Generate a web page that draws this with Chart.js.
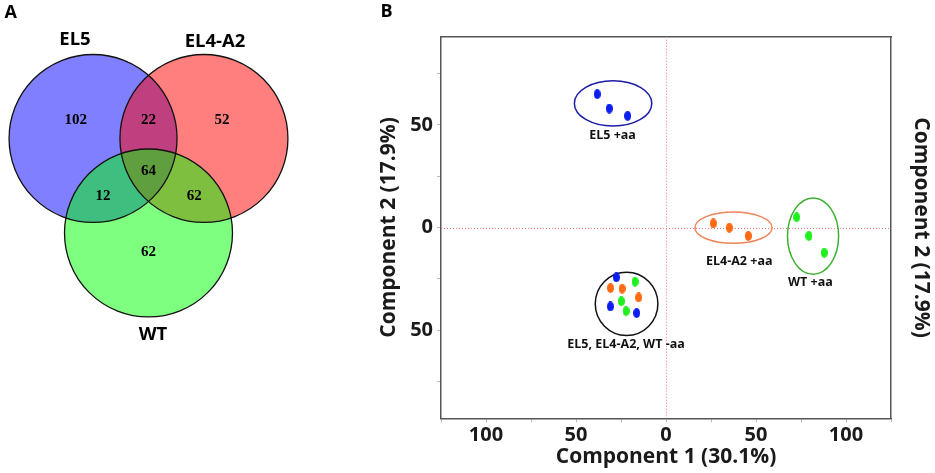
<!DOCTYPE html>
<html>
<head>
<meta charset="utf-8">
<script src="https://cdn.jsdelivr.net/npm/chart.js@4.4.0/dist/chart.umd.min.js"></script>
<style>
html, body { margin: 0; padding: 0; background: #fff; }
#wrap { position: relative; width: 935px; height: 473px; overflow: hidden; }
#vennBox { position: absolute; left: 0; top: 0; width: 297px; height: 473px; }
#pcaBox { position: absolute; left: 370px; top: 0; width: 565px; height: 473px; }
</style>
</head>
<body>
<div id="wrap">
  <div id="vennBox"><canvas id="venn"></canvas></div>
  <div id="pcaBox"><canvas id="pca"></canvas></div>
</div>
<script>
// ---- Panel A : Venn (counts) ----
const vennSets = ['EL5', 'EL4-A2', 'WT'];
const vennCenterX = [-0.66, 0.66, 0];
const vennCenterY = [0.5625, 0.5625, -0.5625];
// regions: EL5 only, EL5∩EL4-A2, EL4-A2 only, all three, EL5∩WT, EL4-A2∩WT, WT only
const vennCounts = [102, 22, 52, 64, 12, 62, 62];

// ---- Panel B : PCA scores ----
const pcaGroups = ['EL5 +aa', 'EL4-A2 +aa', 'WT +aa', 'EL5, EL4-A2, WT -aa'];
const el5PC1 = [-38.2, -31.5, -21.3, -27.6, -30.9, -16.3];
const el5PC2 = [65.0, 58.0, 54.4, -24.3, -38.5, -41.7];
const el4PC1 = [26.3, 35.2, 45.7, -30.8, -24.4, -15.2];
const el4PC2 = [2.0, -0.1, -4.1, -29.5, -29.8, -34.1];
const wtPC1 = [72.6, 79.4, 87.9, -17.2, -24.8, -22.2];
const wtPC2 = [5.0, -4.1, -12.3, -26.4, -35.9, -40.7];
// group ellipses (centre and half axes, in PC units)
const ellCx = [-29.4, 37.5, 81.7, -21.9];
const ellCy = [60.5, -0.1, -4.2, -37.2];
const ellRx = [21.5, 21.4, 14.2, 17.4];
const ellRy = [11.0, 7.6, 18.6, 15.4];
const pc1Ticks = [-125, -100, -75, -50, -25, 0, 25, 50, 75, 100, 125];
const pc2Ticks = [-75, -50, -25, 0, 25, 50, 75];

// layout of text in panel A (venn units, radius = 1)
const vennTextPos = {
  sets: [[-0.875, 1.735], [0.792, 1.715], [0.054, -1.777]],
  counts: [[-0.867, 0.783], [0, 0.783], [0.875, 0.783], [0, 0.179], [-0.542, -0.122], [0.545, -0.122], [0, -0.792]]
};
// where the group names sit in panel B (PC units)
const groupLabelPos = [[-29.7, 45.1], [40.7, -16.3], [80.2, -26.9], [-22.2, -56.8]];

const vennColors = ['rgba(0,0,255,0.5)', 'rgba(255,0,0,0.5)', 'rgba(0,255,0,0.5)'];
const strainColors = ['#0a1ef0', '#ff6a10', '#1ef01e'];
const ellColors = ['#1c1ca8', '#f0845a', '#3cb030', '#111111'];

function unitPx(chart) {
  const x = chart.scales.x;
  return x.getPixelForValue(1) - x.getPixelForValue(0);
}

const vennText = {
  id: 'vennText',
  afterDatasetsDraw(chart) {
    const { ctx, scales: { x, y } } = chart;
    ctx.save();
    ctx.fillStyle = '#000';
    ctx.textAlign = 'center';
    ctx.textBaseline = 'middle';
    ctx.font = 'bold 18px "Open Sans"';
    ctx.fillText('A', 10.7, 13.3);
    ctx.font = 'bold 18.5px "Open Sans"';
    vennSets.forEach((s, i) => {
      const p = vennTextPos.sets[i];
      ctx.fillText(s, x.getPixelForValue(p[0]), y.getPixelForValue(p[1]));
    });
    ctx.font = 'bold 15px "Liberation Serif"';
    vennCounts.forEach((c, i) => {
      const p = vennTextPos.counts[i];
      ctx.fillText(String(c), x.getPixelForValue(p[0]), y.getPixelForValue(p[1]));
    });
    ctx.restore();
  }
};

// filled circles (blue first, green on top) and then the outlines above all fills
const vennFills = vennSets.map((name, i) => ({
  label: name,
  data: [{ x: vennCenterX[i], y: vennCenterY[i] }],
  backgroundColor: vennColors[i],
  borderWidth: 0,
  pointRadius: ctx => unitPx(ctx.chart),
  order: 4 - i
}));
const vennLines = vennSets.map((name, i) => ({
  label: name + ' outline',
  data: [{ x: vennCenterX[i], y: vennCenterY[i] }],
  backgroundColor: 'rgba(0,0,0,0)',
  borderColor: '#111',
  borderWidth: 1.3,
  pointRadius: ctx => unitPx(ctx.chart),
  order: 0
}));

new Chart(document.getElementById('venn'), {
  type: 'scatter',
  data: { datasets: vennFills.concat(vennLines) },
  options: {
    responsive: true,
    maintainAspectRatio: false,
    animation: false,
    events: [],
    layout: { padding: 0 },
    plugins: { legend: { display: false }, tooltip: { enabled: false } },
    scales: {
      x: { type: 'linear', display: false, min: -1.768, max: 1.768 },
      y: { type: 'linear', display: false, min: -3.42, max: 2.211 }
    }
  },
  plugins: [vennText]
});

// elliptic dots like the original markers
function dot(color) {
  const c = document.createElement('canvas');
  c.width = 7; c.height = 10;
  const g = c.getContext('2d');
  g.fillStyle = color;
  g.beginPath();
  g.ellipse(3.5, 5, 3.5, 5, 0, 0, Math.PI * 2);
  g.fill();
  return c;
}

const zip = (xs, ys) => xs.map((v, i) => ({ x: v, y: ys[i] }));

const pcaDecor = {
  id: 'pcaDecor',
  beforeDatasetsDraw(chart) {
    const { ctx, chartArea: a, scales: { x, y } } = chart;
    ctx.save();
    ctx.strokeStyle = '#f07878';
    ctx.lineWidth = 1;
    ctx.setLineDash([1, 2]);
    const x0 = Math.round(x.getPixelForValue(0)) + 0.5;
    const y0 = Math.round(y.getPixelForValue(0)) + 0.5;
    ctx.beginPath();
    ctx.moveTo(x0, a.top); ctx.lineTo(x0, a.bottom);
    ctx.moveTo(a.left, y0); ctx.lineTo(a.right, y0);
    ctx.stroke();
    ctx.setLineDash([]);
    ctx.lineWidth = 1.5;
    ellCx.forEach((cx, i) => {
      const px = x.getPixelForValue(cx), py = y.getPixelForValue(ellCy[i]);
      const rx = Math.abs(x.getPixelForValue(cx + ellRx[i]) - px);
      const ry = Math.abs(y.getPixelForValue(ellCy[i] + ellRy[i]) - py);
      ctx.strokeStyle = ellColors[i];
      ctx.beginPath();
      ctx.ellipse(px, py, rx, ry, 0, 0, Math.PI * 2);
      ctx.stroke();
    });
    ctx.restore();
  },
  afterDatasetsDraw(chart) {
    const { ctx, scales: { x, y } } = chart;
    ctx.save();
    ctx.fillStyle = '#111';
    ctx.textAlign = 'center';
    ctx.textBaseline = 'middle';
    ctx.font = 'bold 12.5px "Open Sans"';
    pcaGroups.forEach((g, i) => {
      const p = groupLabelPos[i];
      ctx.fillText(g, x.getPixelForValue(p[0]), y.getPixelForValue(p[1]));
    });
    ctx.font = 'bold 18px "Open Sans"';
    ctx.fillStyle = '#000';
    ctx.fillText('B', 16.5, 11.7);
    ctx.restore();
  }
};

const axisFont = { family: 'Open Sans', weight: 'bold', size: 20 };
const titleFont = { family: 'Open Sans', weight: 'bold', size: 21 };
const frame = { display: true, color: '#555', width: 1.5 };

new Chart(document.getElementById('pca'), {
  type: 'scatter',
  data: {
    datasets: [
      { label: 'EL5', data: zip(el5PC1, el5PC2), pointStyle: dot(strainColors[0]) },
      { label: 'EL4-A2', data: zip(el4PC1, el4PC2), pointStyle: dot(strainColors[1]) },
      { label: 'WT', data: zip(wtPC1, wtPC2), pointStyle: dot(strainColors[2]) }
    ]
  },
  options: {
    responsive: true,
    maintainAspectRatio: false,
    animation: false,
    events: [],
    layout: { padding: 0 },
    plugins: { legend: { display: false }, tooltip: { enabled: false } },
    scales: {
      x: {
        type: 'linear', position: 'bottom', min: -125, max: 125,
        afterBuildTicks: s => { s.ticks = pc1Ticks.map(v => ({ value: v })); },
        afterFit: s => { s.height = 54.7; },
        ticks: { callback: v => (v % 50 === 0 ? Math.abs(v) : ''), font: axisFont, color: '#1a1a1a', padding: 1, maxRotation: 0, autoSkip: false },
        grid: { drawOnChartArea: false, drawTicks: true, tickLength: 4, tickColor: '#bbb' },
        border: frame,
        title: { display: true, text: 'Component 1 (30.1%)', font: titleFont, color: '#1a1a1a', padding: { top: 0, bottom: 3 } }
      },
      x2: {
        type: 'linear', position: 'top', min: -125, max: 125,
        afterFit: s => { s.height = 36.7; },
        ticks: { display: false },
        grid: { display: false },
        border: frame
      },
      y: {
        type: 'linear', position: 'left', min: -93, max: 93,
        afterBuildTicks: s => { s.ticks = pc2Ticks.map(v => ({ value: v })); },
        afterFit: s => { s.width = 71; },
        ticks: { callback: v => (v % 50 === 0 ? Math.abs(v) : ''), font: axisFont, color: '#1a1a1a', padding: 4, autoSkip: false },
        grid: { drawOnChartArea: false, drawTicks: true, tickLength: 4, tickColor: '#bbb' },
        border: frame,
        title: { display: true, text: 'Component 2 (17.9%)', font: titleFont, color: '#1a1a1a', padding: { top: 6.4, bottom: 0 } }
      },
      y2: {
        type: 'linear', position: 'right', min: -93, max: 93,
        afterFit: s => { s.width = 44; },
        ticks: { display: false },
        grid: { display: false },
        border: frame,
        title: { display: true, text: 'Component 2 (17.9%)', font: titleFont, color: '#1a1a1a', padding: { top: 1.7, bottom: 0 } }
      }
    }
  },
  plugins: [pcaDecor]
});
</script>
</body>
</html>
